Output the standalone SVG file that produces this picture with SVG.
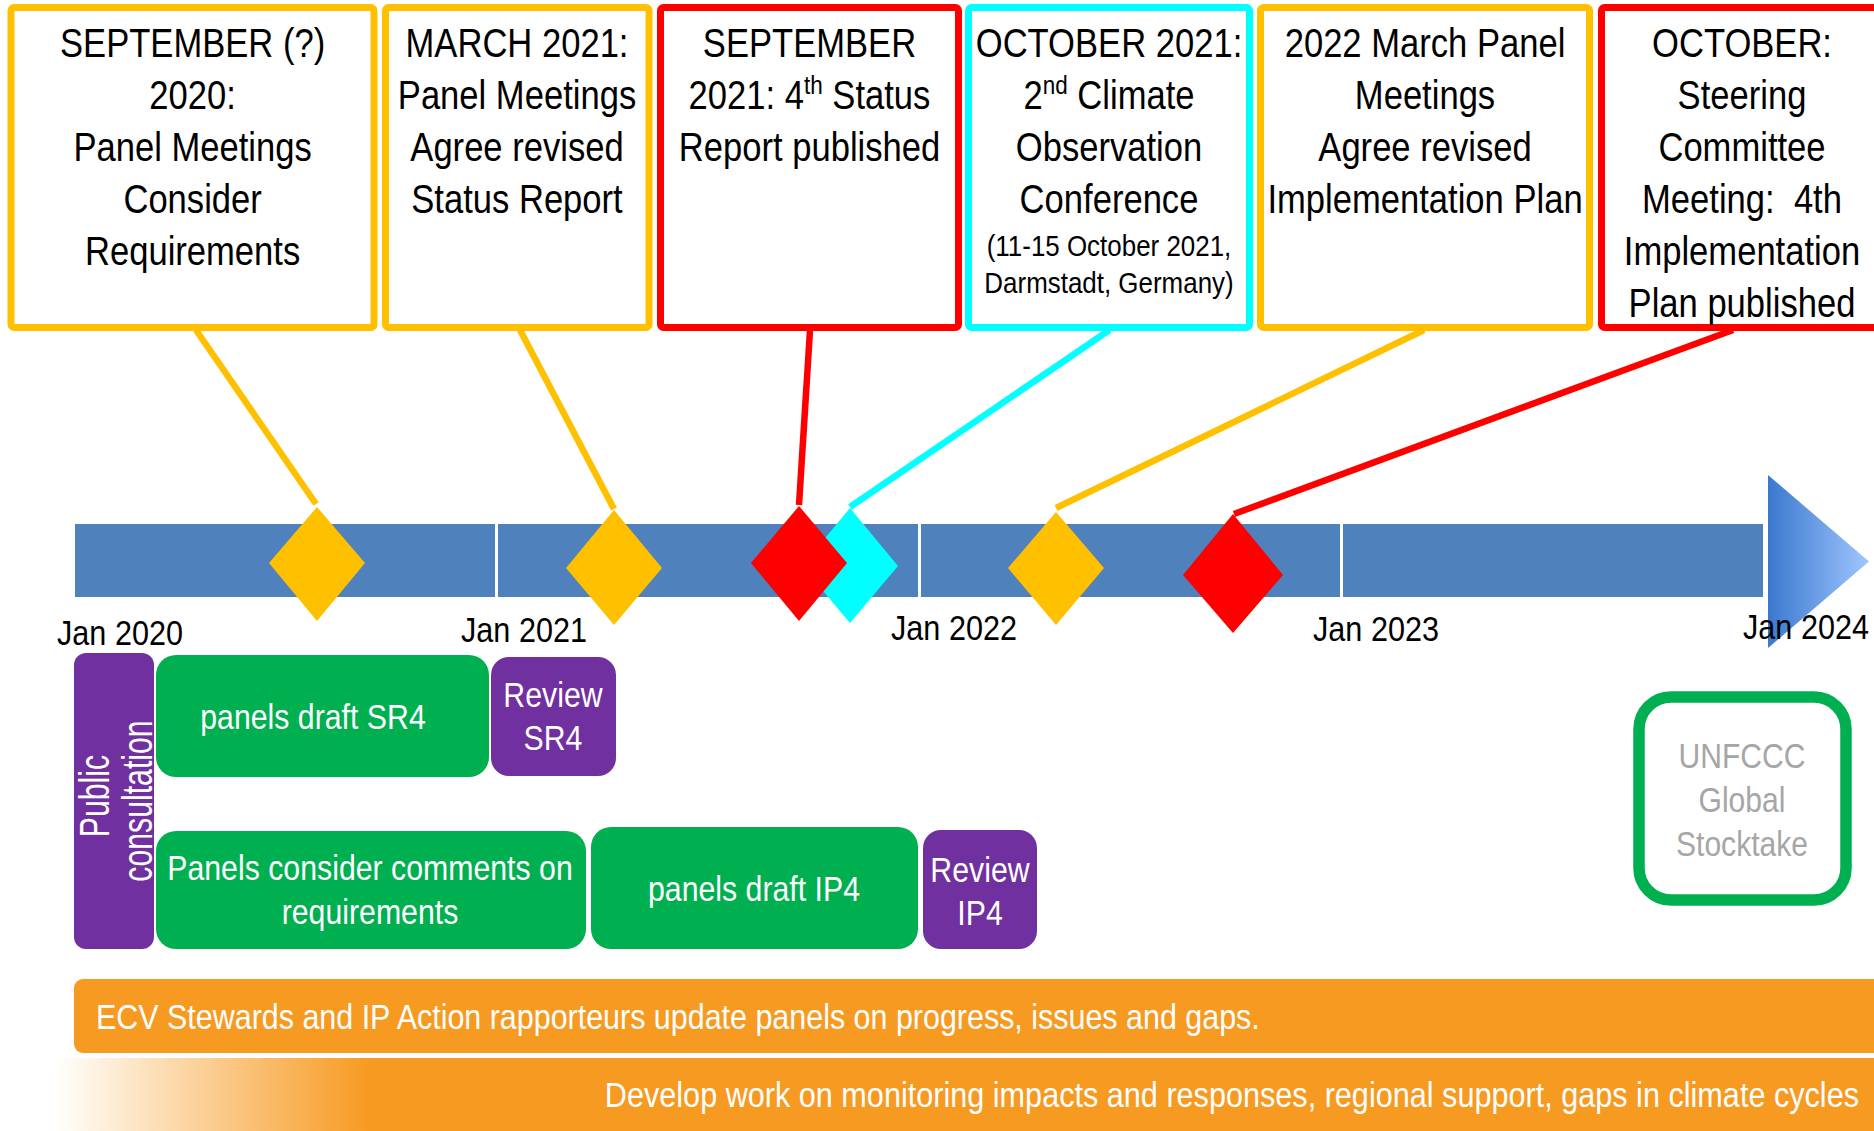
<svg xmlns="http://www.w3.org/2000/svg" width="1874" height="1131" viewBox="0 0 1874 1131">
<style>
.box{fill:#fff;stroke-width:7}
.yl{stroke:#FFC000}.rd{stroke:#FF0000}.cy{stroke:#00FFFF}
.bt{font-family:"Liberation Sans",Arial,sans-serif;font-size:40px;fill:#000;text-anchor:middle}
.st{font-size:30px}
.yr{font-family:"Liberation Sans",Arial,sans-serif;font-size:36px;fill:#000;text-anchor:middle}
.lb{font-family:"Liberation Sans",Arial,sans-serif;font-size:35px;fill:#fff;text-anchor:middle}
.gr{fill:#00B050}.pu{fill:#7030A0}
.seg{fill:#4F81BD}
.con{fill:none;stroke-width:6.5;stroke-linecap:butt}
</style>
<defs>
<linearGradient id="arrowG" x1="0" y1="0" x2="1" y2="0">
<stop offset="0" stop-color="#3A78CE"/>
<stop offset="1" stop-color="#A0C6FF"/>
</linearGradient>
<linearGradient id="fadeG" gradientUnits="userSpaceOnUse" x1="54" y1="0" x2="370" y2="0">
<stop offset="0" stop-color="#F79A21" stop-opacity="0"/>
<stop offset="1" stop-color="#F79A21" stop-opacity="1"/>
</linearGradient>
</defs>

<g id="timeline">
<rect class="seg" x="75" y="524" width="420" height="73"/>
<rect class="seg" x="498" y="524" width="420" height="73"/>
<rect class="seg" x="921" y="524" width="419" height="73"/>
<rect class="seg" x="1343" y="524" width="420" height="73"/>
<polygon points="1768,475 1869,561.5 1768,648" fill="url(#arrowG)"/>
<text class="yr" transform="translate(120 645) scale(0.85 1)" x="0" y="0">Jan 2020</text>
<text class="yr" transform="translate(524 642) scale(0.85 1)" x="0" y="0">Jan 2021</text>
<text class="yr" transform="translate(954 640) scale(0.85 1)" x="0" y="0">Jan 2022</text>
<text class="yr" transform="translate(1376 641) scale(0.85 1)" x="0" y="0">Jan 2023</text>
<text class="yr" transform="translate(1806 639) scale(0.85 1)" x="0" y="0">Jan 2024</text>
</g>

<g id="connectors">
<line class="con yl" x1="196" y1="330" x2="316" y2="504"/>
<line class="con yl" x1="520" y1="330" x2="614" y2="509"/>
<line class="con rd" x1="810" y1="330" x2="799" y2="505"/>
<line class="con cy" x1="1109.5" y1="330" x2="850" y2="507"/>
<line class="con yl" x1="1424" y1="330" x2="1056" y2="508"/>
<line class="con rd" x1="1733" y1="330" x2="1234" y2="514"/>
</g>

<g id="d1"><polygon points="317,507 365,563 317,621 269,563" fill="#FFC000"/></g>
<g id="d2"><polygon points="614,510 662,568 614,625 566,568" fill="#FFC000"/></g>
<g id="d4"><polygon points="850,508 898,566 850,623 802,566" fill="#00FFFF"/></g>
<g id="d3"><polygon points="799,506 847,563 799,621 751,563" fill="#FF0000"/></g>
<g id="d5"><polygon points="1056,512 1104,568 1056,625 1008,568" fill="#FFC000"/></g>
<g id="d6"><polygon points="1233,514 1283,575 1233,633 1183,575" fill="#FF0000"/></g>

<g id="n1">
<rect class="box yl" x="11" y="7.5" width="363" height="320" rx="3"/>
<g transform="translate(192.6 0) scale(0.865 1)">
<text class="bt" x="0" y="57">SEPTEMBER (?)</text>
<text class="bt" x="0" y="109">2020:</text>
<text class="bt" x="0" y="161">Panel Meetings</text>
<text class="bt" x="0" y="213">Consider</text>
<text class="bt" x="0" y="265">Requirements</text>
</g>
</g>

<g id="n2">
<rect class="box yl" x="385.5" y="7.5" width="263.5" height="320" rx="3"/>
<g transform="translate(517 0) scale(0.865 1)">
<text class="bt" x="0" y="57">MARCH 2021:</text>
<text class="bt" x="0" y="109">Panel Meetings</text>
<text class="bt" x="0" y="161">Agree revised</text>
<text class="bt" x="0" y="213">Status Report</text>
</g>
</g>

<g id="n3">
<rect class="box rd" x="660.5" y="7.5" width="298" height="320" rx="3"/>
<g transform="translate(809.5 0) scale(0.865 1)">
<text class="bt" x="0" y="57">SEPTEMBER</text>
<text class="bt" x="0" y="109">2021: 4<tspan font-size="26" dy="-15">th</tspan><tspan dy="15"> Status</tspan></text>
<text class="bt" x="0" y="161">Report published</text>
</g>
</g>

<g id="n4">
<rect class="box cy" x="968.5" y="7.5" width="281" height="320" rx="3"/>
<g transform="translate(1109 0) scale(0.865 1)">
<text class="bt" x="0" y="57">OCTOBER 2021:</text>
<text class="bt" x="0" y="109">2<tspan font-size="26" dy="-15">nd</tspan><tspan dy="15"> Climate</tspan></text>
<text class="bt" x="0" y="161">Observation</text>
<text class="bt" x="0" y="213">Conference</text>
<text class="bt st" x="0" y="256">(11-15 October 2021,</text>
<text class="bt st" x="0" y="293">Darmstadt, Germany)</text>
</g>
</g>

<g id="n5">
<rect class="box yl" x="1260.5" y="7.5" width="329" height="320" rx="3"/>
<g transform="translate(1425 0) scale(0.865 1)">
<text class="bt" x="0" y="57">2022 March Panel</text>
<text class="bt" x="0" y="109">Meetings</text>
<text class="bt" x="0" y="161">Agree revised</text>
<text class="bt" x="0" y="213">Implementation Plan</text>
</g>
</g>

<g id="n6">
<rect class="box rd" x="1601.5" y="7.5" width="281" height="320" rx="3"/>
<g transform="translate(1742 0) scale(0.865 1)">
<text class="bt" x="0" y="57">OCTOBER:</text>
<text class="bt" x="0" y="109">Steering</text>
<text class="bt" x="0" y="161">Committee</text>
<text class="bt" x="0" y="213" xml:space="preserve">Meeting:  4th</text>
<text class="bt" x="0" y="265">Implementation</text>
<text class="bt" x="0" y="317">Plan published</text>
</g>
</g>

<g id="public-consultation">
<rect class="pu" x="74" y="653" width="80" height="296" rx="12"/>
<text class="lb" style="font-size:42px" transform="translate(109 796) rotate(-90) scale(0.72 1)" x="0" y="0">Public</text>
<text class="lb" style="font-size:42px" transform="translate(152 801) rotate(-90) scale(0.72 1)" x="0" y="0">consultation</text>
</g>

<g id="draft-sr4">
<rect class="gr" x="156" y="655" width="333" height="122" rx="20"/>
<text class="lb" transform="translate(313 729) scale(0.865 1)" x="0" y="0">panels draft SR4</text>
</g>

<g id="review-sr4">
<rect class="pu" x="491" y="657" width="125" height="119" rx="18"/>
<g transform="translate(553 0) scale(0.865 1)">
<text class="lb" x="0" y="707">Review</text>
<text class="lb" x="0" y="750">SR4</text>
</g>
</g>

<g id="consider-comments">
<rect class="gr" x="156" y="831" width="430" height="118" rx="20"/>
<g transform="translate(370 0) scale(0.865 1)">
<text class="lb" x="0" y="880">Panels consider comments on</text>
<text class="lb" x="0" y="924">requirements</text>
</g>
</g>

<g id="draft-ip4">
<rect class="gr" x="591" y="827" width="327" height="122" rx="20"/>
<text class="lb" transform="translate(754 901) scale(0.865 1)" x="0" y="0">panels draft IP4</text>
</g>

<g id="review-ip4">
<rect class="pu" x="923" y="830" width="114" height="119" rx="18"/>
<g transform="translate(980 0) scale(0.865 1)">
<text class="lb" x="0" y="882">Review</text>
<text class="lb" x="0" y="925">IP4</text>
</g>
</g>

<g id="stocktake">
<rect x="1639" y="697" width="207" height="203" rx="32" fill="#fff" stroke="#00B050" stroke-width="11.5"/>
<g transform="translate(1742 0) scale(0.86 1)">
<text class="lb" style="font-size:35px;fill:#A6A6A6" x="0" y="768">UNFCCC</text>
<text class="lb" style="font-size:35px;fill:#A6A6A6" x="0" y="812">Global</text>
<text class="lb" style="font-size:35px;fill:#A6A6A6" x="0" y="856">Stocktake</text>
</g>
</g>

<g id="ecv-bar">
<rect x="74" y="979" width="1830" height="74" rx="9" fill="#F79A21"/>
<text class="lb" style="text-anchor:start" transform="translate(96 1029) scale(0.87 1)" x="0" y="0">ECV Stewards and IP Action rapporteurs update panels on progress, issues and gaps.</text>
</g>

<g id="develop-bar">
<rect x="54" y="1058" width="1840" height="80" fill="url(#fadeG)"/>
<text class="lb" style="text-anchor:end" transform="translate(1859 1107) scale(0.875 1)" x="0" y="0">Develop work on monitoring impacts and responses, regional support, gaps in climate cycles</text>
</g>
</svg>
